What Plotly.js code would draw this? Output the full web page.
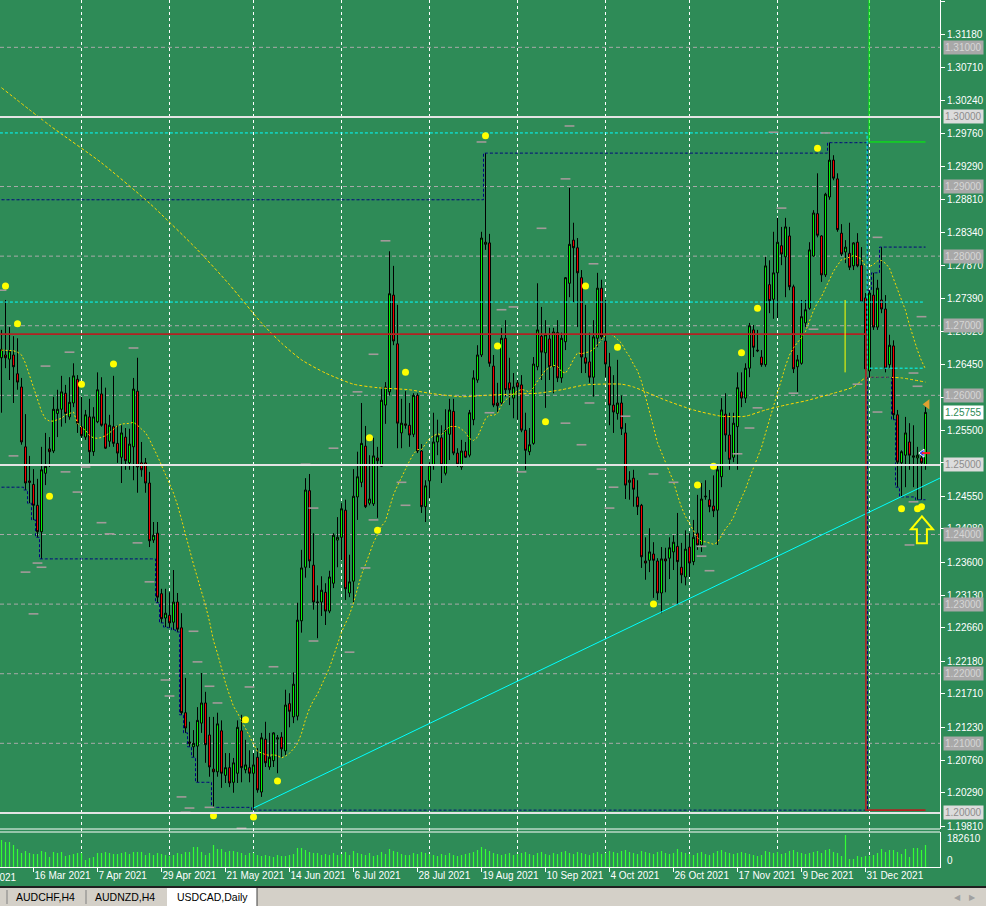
<!DOCTYPE html>
<html><head><meta charset="utf-8">
<script src="https://cdn.plot.ly/plotly-3.0.1.min.js"></script>
<style>html,body{margin:0;padding:0;background:#2E8B57;overflow:hidden}#chart{width:986px;height:906px}</style>
</head><body><div id="chart"></div>
<script>
// ---------- data (USDCAD, Daily) ----------
const open = [
1.2654,1.2658,1.2652,1.2658,1.2631,1.2612,1.2526,1.2477,1.2472,1.2442,
1.2404,1.2488,1.2523,1.2520,1.2574,1.2580,1.2603,1.2569,1.2589,1.2623,
1.2555,1.2540,1.2569,1.2519,1.2562,1.2602,1.2559,1.2534,1.2555,1.2531,
1.2511,1.2540,1.2503,1.2526,1.2606,1.2503,1.2503,1.2474,1.2392,1.2402,
1.2315,1.2280,1.2284,1.2274,1.2303,1.2266,1.2144,1.2102,1.2095,1.2096,
1.2129,1.2158,1.2112,1.2063,1.2059,1.2118,1.2054,1.2065,1.2044,1.2057,
1.2118,1.2062,1.2065,1.2057,1.2080,1.2030,1.2106,1.2066,1.2075,1.2106,
1.2109,1.2089,1.2157,1.2138,1.2139,1.2276,1.2353,1.2463,1.2356,1.2302,
1.2303,1.2317,1.2290,1.2330,1.2392,1.2396,1.2435,1.2316,1.2333,1.2454,
1.2475,1.2527,1.2445,1.2444,1.2510,1.2498,1.2586,1.2605,1.2744,1.2674,
1.2546,1.2559,1.2557,1.2544,1.2600,1.2520,1.2440,1.2477,1.2500,1.2533,
1.2539,1.2488,1.2544,1.2577,1.2517,1.2497,1.2520,1.2514,1.2565,1.2622,
1.2658,1.2817,1.2819,1.2642,1.2589,1.2589,1.2682,1.2618,1.2596,1.2618,
1.2615,1.2550,1.2519,1.2531,1.2641,1.2685,1.2661,1.2681,1.2641,1.2690,
1.2625,1.2677,1.2761,1.2823,1.2812,1.2769,1.2654,1.2648,1.2626,1.2682,
1.2754,1.2678,1.2641,1.2586,1.2574,1.2589,1.2546,1.2475,1.2481,1.2454,
1.2442,1.2362,1.2363,1.2372,1.2362,1.2316,1.2365,1.2366,1.2375,1.2383,
1.2353,1.2339,1.2382,1.2361,1.2402,1.2385,1.2454,1.2450,1.2441,1.2435,
1.2483,1.2573,1.2543,1.2511,1.2555,1.2605,1.2596,1.2639,1.2694,1.2665,
1.2655,1.2644,1.2759,1.2738,1.2776,1.2815,1.2799,1.2829,1.2756,1.2641,
1.2646,1.2704,1.2725,1.2800,1.2861,1.2829,1.2773,1.2885,1.2938,1.2911,
1.2833,1.2806,1.2804,1.2786,1.2820,1.2787,1.2740,1.2635,1.2744,1.2698,
1.2737,1.2724,1.2644,1.2671,1.2572,1.2503,1.2514,1.2533,1.2511,1.2510,
1.2510,1.2500];
const high = [
1.2694,1.2737,1.2698,1.2685,1.2682,1.2625,1.2573,1.2513,1.2494,1.2480,
1.2526,1.2546,1.2540,1.2598,1.2608,1.2628,1.2615,1.2626,1.2646,1.2629,
1.2598,1.2579,1.2595,1.2583,1.2633,1.2626,1.2611,1.2572,1.2628,1.2557,
1.2557,1.2553,1.2552,1.2625,1.2654,1.2533,1.2510,1.2490,1.2418,1.2418,
1.2322,1.2322,1.2317,1.2349,1.2316,1.2287,1.2194,1.2131,1.2119,1.2152,
1.2201,1.2174,1.2138,1.2138,1.2144,1.2133,1.2086,1.2086,1.2079,1.2133,
1.2141,1.2105,1.2090,1.2086,1.2093,1.2115,1.2131,1.2115,1.2116,1.2112,
1.2116,1.2177,1.2172,1.2202,1.2302,1.2378,1.2481,1.2487,1.2402,1.2327,
1.2340,1.2330,1.2348,1.2402,1.2425,1.2445,1.2450,1.2371,1.2494,1.2519,
1.2589,1.2556,1.2514,1.2539,1.2526,1.2612,1.2619,1.2807,1.2786,1.2730,
1.2595,1.2606,1.2589,1.2603,1.2603,1.2530,1.2478,1.2504,1.2575,1.2565,
1.2557,1.2580,1.2595,1.2595,1.2524,1.2536,1.2533,1.2579,1.2636,1.2672,
1.2835,1.2948,1.2832,1.2658,1.2618,1.2697,1.2708,1.2654,1.2632,1.2622,
1.2629,1.2575,1.2553,1.2655,1.2761,1.2727,1.2708,1.2697,1.2697,1.2708,
1.2690,1.2770,1.2898,1.2848,1.2826,1.2780,1.2730,1.2690,1.2708,1.2776,
1.2766,1.2737,1.2661,1.2629,1.2651,1.2600,1.2560,1.2491,1.2493,1.2478,
1.2444,1.2396,1.2409,1.2389,1.2366,1.2382,1.2381,1.2396,1.2399,1.2431,
1.2388,1.2406,1.2402,1.2421,1.2457,1.2474,1.2478,1.2464,1.2485,1.2500,
1.2596,1.2603,1.2575,1.2575,1.2633,1.2633,1.2646,1.2704,1.2701,1.2694,
1.2665,1.2799,1.2794,1.2835,1.2855,1.2842,1.2855,1.2842,1.2759,1.2658,
1.2737,1.2737,1.2820,1.2866,1.2919,1.2830,1.2891,1.2963,1.2945,1.2919,
1.2846,1.2823,1.2848,1.2820,1.2833,1.2813,1.2747,1.2751,1.2776,1.2766,
1.2813,1.2744,1.2687,1.2679,1.2579,1.2521,1.2569,1.2560,1.2557,1.2526,
1.2519,1.2583];
const low = [
1.2575,1.2639,1.2622,1.2589,1.2608,1.2529,1.2464,1.2445,1.2421,1.2396,
1.2365,1.2471,1.2497,1.2517,1.2540,1.2555,1.2560,1.2565,1.2583,1.2546,
1.2539,1.2536,1.2503,1.2513,1.2560,1.2555,1.2523,1.2526,1.2526,1.2503,
1.2474,1.2493,1.2493,1.2478,1.2460,1.2483,1.2460,1.2382,1.2388,1.2302,
1.2273,1.2267,1.2266,1.2263,1.2260,1.2141,1.2115,1.2095,1.2080,1.2044,
1.2115,1.2072,1.2052,1.2008,1.2052,1.2036,1.2043,1.2037,1.2029,1.2043,
1.2044,1.2057,1.2044,1.2004,1.2029,1.2023,1.2066,1.2062,1.2066,1.2057,
1.2080,1.2083,1.2123,1.2129,1.2133,1.2259,1.2338,1.2352,1.2292,1.2251,
1.2283,1.2270,1.2287,1.2323,1.2353,1.2363,1.2306,1.2310,1.2302,1.2421,
1.2468,1.2438,1.2442,1.2441,1.2424,1.2497,1.2559,1.2600,1.2672,1.2524,
1.2524,1.2552,1.2526,1.2540,1.2517,1.2431,1.2418,1.2452,1.2493,1.2514,
1.2474,1.2485,1.2507,1.2514,1.2497,1.2493,1.2510,1.2511,1.2557,1.2618,
1.2655,1.2809,1.2641,1.2583,1.2575,1.2586,1.2598,1.2586,1.2567,1.2565,
1.2547,1.2493,1.2514,1.2529,1.2636,1.2622,1.2582,1.2622,1.2603,1.2619,
1.2618,1.2665,1.2741,1.2734,1.2698,1.2632,1.2632,1.2618,1.2598,1.2669,
1.2679,1.2626,1.2557,1.2546,1.2565,1.2543,1.2451,1.2450,1.2440,1.2428,
1.2352,1.2335,1.2346,1.2309,1.2306,1.2287,1.2317,1.2336,1.2349,1.2299,
1.2330,1.2327,1.2339,1.2356,1.2378,1.2375,1.2450,1.2432,1.2425,1.2385,
1.2468,1.2519,1.2493,1.2504,1.2493,1.2583,1.2589,1.2626,1.2655,1.2662,
1.2641,1.2641,1.2718,1.2710,1.2711,1.2787,1.2741,1.2751,1.2632,1.2605,
1.2644,1.2698,1.2723,1.2799,1.2827,1.2763,1.2770,1.2881,1.2909,1.2835,
1.2800,1.2790,1.2780,1.2780,1.2784,1.2733,1.2636,1.2626,1.2694,1.2694,
1.2718,1.2633,1.2639,1.2565,1.2468,1.2454,1.2468,1.2493,1.2468,1.2450,
1.2450,1.2493];
const close = [
1.2666,1.2654,1.2664,1.2641,1.2619,1.2533,1.2474,1.2475,1.2442,1.2404,
1.2493,1.2498,1.2519,1.2580,1.2580,1.2605,1.2574,1.2590,1.2628,1.2560,
1.2542,1.2572,1.2519,1.2569,1.2608,1.2557,1.2524,1.2557,1.2531,1.2517,
1.2546,1.2506,1.2530,1.2609,1.2497,1.2493,1.2474,1.2391,1.2399,1.2310,
1.2279,1.2287,1.2273,1.2303,1.2264,1.2144,1.2122,1.2100,1.2100,1.2133,
1.2158,1.2098,1.2066,1.2059,1.2128,1.2057,1.2065,1.2043,1.2072,1.2123,
1.2065,1.2069,1.2057,1.2069,1.2033,1.2108,1.2072,1.2080,1.2115,1.2108,
1.2092,1.2155,1.2146,1.2185,1.2277,1.2352,1.2464,1.2362,1.2303,1.2303,
1.2320,1.2290,1.2339,1.2399,1.2396,1.2437,1.2322,1.2332,1.2455,1.2483,
1.2531,1.2440,1.2451,1.2513,1.2506,1.2593,1.2612,1.2746,1.2678,1.2560,
1.2560,1.2557,1.2543,1.2600,1.2520,1.2440,1.2470,1.2500,1.2533,1.2542,
1.2500,1.2550,1.2579,1.2517,1.2501,1.2520,1.2511,1.2575,1.2625,1.2658,
1.2826,1.2820,1.2646,1.2586,1.2585,1.2682,1.2608,1.2608,1.2612,1.2612,
1.2550,1.2521,1.2529,1.2645,1.2694,1.2662,1.2687,1.2641,1.2691,1.2625,
1.2682,1.2769,1.2817,1.2812,1.2776,1.2655,1.2646,1.2626,1.2684,1.2754,
1.2684,1.2645,1.2586,1.2576,1.2589,1.2552,1.2471,1.2478,1.2465,1.2440,
1.2368,1.2359,1.2375,1.2363,1.2316,1.2365,1.2362,1.2381,1.2389,1.2361,
1.2342,1.2379,1.2359,1.2396,1.2385,1.2451,1.2455,1.2440,1.2434,1.2493,
1.2579,1.2543,1.2508,1.2560,1.2611,1.2596,1.2639,1.2700,1.2669,1.2664,
1.2644,1.2786,1.2736,1.2776,1.2820,1.2803,1.2842,1.2756,1.2638,1.2651,
1.2713,1.2723,1.2809,1.2862,1.2830,1.2773,1.2889,1.2938,1.2912,1.2838,
1.2803,1.2813,1.2784,1.2819,1.2786,1.2734,1.2638,1.2747,1.2698,1.2754,
1.2724,1.2639,1.2672,1.2572,1.2504,1.2519,1.2546,1.2514,1.2513,1.2514,
1.2503,1.25755];
const volume = [
154090,142680,142680,125550,102730,79900,91310,79900,74190,74190,
91310,85610,57070,85610,79900,85610,62780,68480,74190,79900,
79900,39950,51360,57070,79900,79900,85610,79900,74190,74190,
79900,85610,74190,85610,85610,85610,68480,79900,68480,79900,
74190,68480,62780,68480,79900,74190,85610,85610,114140,114140,
85610,68480,79900,125550,102730,102730,85610,91310,91310,85610,
79900,68480,79900,79900,68480,62780,68480,62780,57070,68480,
62780,62780,68480,74190,108430,108430,97020,85610,79900,79900,
68480,74190,68480,79900,68480,74190,85610,68480,91310,79900,
74190,68480,79900,62780,68480,85610,74190,102730,91310,85610,
74190,68480,68480,79900,74190,85610,79900,74190,68480,62780,
74190,68480,79900,68480,62780,68480,74190,79900,85610,97020,
114140,102730,91310,79900,74190,68480,74190,79900,68480,74190,
79900,85610,74190,68480,79900,85610,74190,68480,79900,74190,
85610,91310,79900,74190,85610,79900,74190,68480,79900,85610,
74190,79900,91310,85610,79900,91310,97020,85610,79900,74190,
91310,85610,79900,74190,85610,91310,79900,74190,79900,102730,
85610,79900,74190,68480,79900,85610,74190,68480,79900,91310,
97020,85610,79900,74190,79900,85610,79900,74190,68480,62780,
68480,91310,85610,79900,85610,74190,79900,91310,97020,85610,
79900,74190,79900,85610,91310,79900,97020,102730,85610,79900,
62780,182610,45660,45660,62780,57070,62780,62780,68480,79900,
102730,85610,97020,97020,85610,74190,102730,57070,108430,108430,
97020,125550];
const volumeMax = 182610;
const tickBars = [8,24,40,56,72,88,104,120,136,152,168,184,200,216];
const tickLabels = ['16 Mar 2021','7 Apr 2021','29 Apr 2021','21 May 2021','14 Jun 2021','6 Jul 2021','28 Jul 2021','19 Aug 2021','10 Sep 2021','4 Oct 2021','26 Oct 2021','17 Nov 2021','9 Dec 2021','31 Dec 2021'];
const cutLabel = '22 Feb 2021';
const monthStartBars = [20,42,63,85,107,129,151,172,194,217];
const priceTicks = [1.31660,1.31180,1.30710,1.30240,1.29760,1.29290,1.28810,1.28340,1.27870,1.27390,1.26920,1.26450,1.25970,1.25500,1.25030,1.24550,1.24080,1.23600,1.23130,1.22660,1.22180,1.21710,1.21230,1.20760,1.20290,1.19810];
const roundLevels = [1.31,1.29,1.28,1.27,1.26,1.24,1.23,1.22,1.21];
const majorLevels = [1.30,1.25,1.20];
const lastPrice = 1.25755;
const ma20Head = [1.2665,1.2665,1.2665,1.2664,1.2662,1.2658,1.2646,1.2629,1.2611,1.2593,1.2577,1.2566,1.2563,1.2563,1.2565,1.2567,1.2572,1.2574,1.2576];
const ma200Bars = [0,12,25,37,49,57,65,70,75,81,88,94,102,107,115,121,129,134,140,146,155,158,166,173,180,186,191,196,201,208,213,216,220,225,231];
const ma200Vals = [1.3042,1.2988,1.2934,1.2876,1.2809,1.2759,1.2704,1.2675,1.2651,1.2632,1.2616,1.2611,1.2608,1.2603,1.2598,1.2600,1.2602,1.2603,1.2608,1.2615,1.2616,1.2612,1.2593,1.2579,1.2570,1.2570,1.2579,1.2586,1.2592,1.2603,1.2612,1.2625,1.2626,1.2625,1.2619];
const yearStartBar = 217;
const priorYearHigh = 1.2881, priorYearLow = 1.2468;
const dotBars = [1,4,12,20,28,53,61,63,69,92,94,101,121,124,136,146,154,163,174,178,185,189,204,225,229,230];
const dotVals = [1.2757,1.2703,1.2455,1.2616,1.2645,1.1996,1.2134,1.1994,1.2046,1.2539,1.2406,1.2633,1.2973,1.2671,1.2562,1.2757,1.2669,1.2300,1.2471,1.2498,1.2661,1.2725,1.2955,1.2437,1.2437,1.2440];
const dashBars = [0,17,11,33,3,16,19,21,25,27,34,9,10,6,37,8,48,49,41,42,52,54,62,68,78,87,45,47,46,52,60,93,89,83,76,78,100,101,93,91,142,120,141,135,96,148,125,128,122,141,147,145,150,130,193,206,195,219,203,198,214,219,189,187,184,156,163,153,168,152,175,175,177,230,228,229,228,227];
const dashVals = [1.2751,1.2662,1.2642,1.2668,1.2513,1.2490,1.2461,1.2497,1.2417,1.2401,1.2388,1.2359,1.2353,1.2346,1.2332,1.2286,1.2261,1.2217,1.2191,1.2168,1.2182,1.2158,1.2181,1.2210,1.2247,1.2231,1.2023,1.2007,1.2001,1.2008,1.1978,1.2659,1.2605,1.2524,1.2501,1.2438,1.2475,1.2442,1.2421,1.2352,1.2987,1.2964,1.2911,1.2840,1.2822,1.2789,1.2723,1.2727,1.2575,1.2560,1.2589,1.2529,1.2494,1.2490,1.2978,1.2977,1.2869,1.2827,1.2695,1.2603,1.2616,1.2576,1.2582,1.2553,1.2516,1.2570,1.2487,1.2468,1.2475,1.2438,1.2383,1.2369,1.2348,1.2713,1.2632,1.2613,1.2447,1.2385];
// drawn objects
const trendBars = [63, 234.6], trendVals = [1.2007, 1.2481];
const redBars = [-0.4, 216.1, 216.1, 231], redVals = [1.2688, 1.2688, 1.2004, 1.2004];
const cyanLowBars = [-0.4, 230.5], cyanLowVals = [1.2734, 1.2734];
const cyanHighBars = [-0.4, 216.4, 216.4, 230.5], cyanHighVals = [1.2977, 1.2977, 1.2639, 1.2639];
const greenBars = [216.9, 216.9, 231], greenVals = [1.3168, 1.2964, 1.2964];
const yellowVBars = [210.9, 210.9], yellowVVals = [1.2737, 1.2633];
const arrowBar = 230.1, arrowVal = 1.2406;
const markBar = 231.4, markVal = 1.2587;
const crossBar = 230.2, crossVal = 1.2517;
const tabs = ['AUDCHF,H4','AUDNZD,H4','USDCAD,Daily'];

// ---------- derived ----------
const bars = close.map((_, i) => i);
const ma20 = close.map((c, i) => {
  if (i < 19) return ma20Head[i];
  let s = 0; for (let k = i - 19; k <= i; k++) s += close[k];
  return s / 20;
});
const upper = [], lower = [];
let up = priorYearHigh, lo = priorYearLow;
for (let i = 0; i < close.length; i++) {
  if (i === yearStartBar) { up = high[i]; lo = low[i]; }
  else { up = Math.max(up, high[i]); lo = Math.min(lo, low[i]); }
  upper.push(up); lower.push(lo);
}
// volume as 1-px vertical sticks
const volX = [], volY = [];
volume.forEach((v, i) => { volX.push(i, i, null); volY.push(0, v, null); });

// ---------- geometry ----------
const W = 986, H = 906, R = 46, B = 39;
const plotH = H - B;                       // 867
const mainBottom = (plotH - 829) / plotH;  // main pane bottom
const volTop = (plotH - 832) / plotH;
const pxY = y => (plotH - y) / plotH;      // paper y from pixel row
const pxX = x => x / (W - R);              // paper x from pixel column
const BG = '#2E8B57';
const FONT = 'Liberation Sans, Arial, sans-serif';

const traces = [
  {type:'scatter', mode:'lines', x:volX, y:volY, xaxis:'x', yaxis:'y2', connectgaps:false,
   line:{color:'#33FF33', width:1.2}, hoverinfo:'skip'},
  {type:'candlestick', x:bars, open:open, high:high, low:low, close:close,
   xaxis:'x', yaxis:'y', whiskerwidth:0,
   increasing:{line:{color:'#000000', width:1}, fillcolor:'#00FF00'},
   decreasing:{line:{color:'#000000', width:1}, fillcolor:'#FF0000'},
   hoverinfo:'skip'},
  {type:'scatter', mode:'lines', x:ma200Bars, y:ma200Vals, line:{color:'#FFD700', width:1, dash:'3px,2px', shape:'spline', smoothing:0.6}, hoverinfo:'skip'},
  {type:'scatter', mode:'lines', x:bars, y:ma20, line:{color:'#FFD700', width:1, dash:'2px,2px'}, hoverinfo:'skip'},
  {type:'scatter', mode:'lines', x:bars, y:upper, line:{color:'#000080', width:1, dash:'3px,2px', shape:'hvh'}, hoverinfo:'skip'},
  {type:'scatter', mode:'lines', x:bars, y:lower, line:{color:'#000080', width:1, dash:'3px,2px', shape:'hvh'}, hoverinfo:'skip'},
  {type:'scatter', mode:'lines', x:cyanLowBars, y:cyanLowVals, line:{color:'#00FFFF', width:1, dash:'3px,2px'}, hoverinfo:'skip'},
  {type:'scatter', mode:'lines', x:cyanHighBars, y:cyanHighVals, line:{color:'#00FFFF', width:1, dash:'3px,2px'}, hoverinfo:'skip'},
  {type:'scatter', mode:'lines', x:trendBars, y:trendVals, line:{color:'#00FFFF', width:1}, hoverinfo:'skip'},
  {type:'scatter', mode:'lines', x:redBars, y:redVals, line:{color:'#B22222', width:1.6}, hoverinfo:'skip'},
  {type:'scatter', mode:'lines', x:greenBars, y:greenVals, line:{color:'#00FF00', width:1}, hoverinfo:'skip'},
  {type:'scatter', mode:'lines', x:yellowVBars, y:yellowVVals, line:{color:'#FFFF00', width:1}, hoverinfo:'skip'},
  {type:'scatter', mode:'markers', x:dashBars, y:dashVals, marker:{symbol:'line-ew', size:7, line:{color:'#A39A9A', width:1.6}}, hoverinfo:'skip'},
  {type:'scatter', mode:'markers', x:dotBars, y:dotVals, marker:{color:'#FFFF00', size:7, line:{width:0}}, hoverinfo:'skip'},
  {type:'scatter', mode:'markers', x:[markBar], y:[markVal], marker:{symbol:'triangle-left', color:'#E0A030', size:9, line:{width:0}}, hoverinfo:'skip', cliponaxis:false},
  {type:'scatter', mode:'markers', x:[crossBar], y:[crossVal], marker:{symbol:'triangle-left', color:'#1E3CFF', size:7, line:{color:'#FFFFFF', width:1}}, hoverinfo:'skip'},
  {type:'scatter', mode:'markers', x:[crossBar + 0.9], y:[crossVal], marker:{symbol:'line-ew', size:6, line:{color:'#FF2020', width:2}}, hoverinfo:'skip'}
];

const shapes = [];
monthStartBars.forEach(b => shapes.push({type:'line', xref:'x', yref:'paper', x0:b, x1:b, y0:0, y1:1, layer:'below', line:{color:'#FFFFFF', width:1, dash:'3px,3px'}}));
roundLevels.forEach(v => shapes.push({type:'line', xref:'paper', yref:'y', x0:0, x1:1, y0:v, y1:v, layer:'below', line:{color:'#A9A9A9', width:1, dash:'4px,3px'}}));
majorLevels.forEach(v => shapes.push({type:'line', xref:'paper', yref:'y', x0:0, x1:1, y0:v, y1:v, layer:'above', line:{color:'#E4E4E4', width:2}}));
// pane separators
shapes.push({type:'line', xref:'paper', yref:'paper', x0:0, x1:1, y0:mainBottom, y1:mainBottom, line:{color:'#FFFFFF', width:1}});
shapes.push({type:'line', xref:'paper', yref:'paper', x0:0, x1:1, y0:volTop, y1:volTop, line:{color:'#FFFFFF', width:1}});
// yellow hollow arrow (pixel-sized around its anchor)
shapes.push({type:'path', xref:'x', yref:'y', xsizemode:'pixel', ysizemode:'pixel', xanchor:arrowBar, yanchor:arrowVal,
  path:'M0,14 L-11,1 L-5,1 L-5,-13 L5,-13 L5,1 L11,1 Z', line:{color:'#FFFF00', width:2}, fillcolor:'rgba(0,0,0,0)'});
// tab bar
shapes.push({type:'rect', xref:'paper', yref:'paper', x0:pxX(0), x1:pxX(W), y0:pxY(H), y1:pxY(887), fillcolor:'#D4D0C8', line:{width:0}, layer:'above'});
shapes.push({type:'line', xref:'paper', yref:'paper', x0:pxX(0), x1:pxX(W), y0:pxY(887), y1:pxY(887), line:{color:'#202020', width:2}});
shapes.push({type:'rect', xref:'paper', yref:'paper', x0:pxX(167), x1:pxX(257), y0:pxY(H), y1:pxY(888), fillcolor:'#FFFFFF', line:{width:0}});
[7, 86].forEach(x => shapes.push({type:'line', xref:'paper', yref:'paper', x0:pxX(x), x1:pxX(x), y0:pxY(904), y1:pxY(890), line:{color:'#808080', width:1}}));
shapes.push({type:'line', xref:'paper', yref:'paper', x0:pxX(257), x1:pxX(257), y0:pxY(H), y1:pxY(888), line:{color:'#404040', width:1}});

const annotations = [];
roundLevels.forEach(v => annotations.push({xref:'paper', x:1, xanchor:'left', xshift:3, yref:'y', y:v, yanchor:'middle', text:v.toFixed(5), showarrow:false, bgcolor:'#A8A8A8', borderpad:1, font:{family:FONT, size:10, color:'#D6D6D6'}}));
majorLevels.forEach(v => annotations.push({xref:'paper', x:1, xanchor:'left', xshift:3, yref:'y', y:v, yanchor:'middle', text:v.toFixed(5), showarrow:false, bgcolor:'#DCDCDC', borderpad:1, font:{family:FONT, size:10, color:'#8C8C8C'}}));
annotations.push({xref:'paper', x:1, xanchor:'left', xshift:3, yref:'y', y:lastPrice, yanchor:'middle', text:lastPrice.toFixed(5), showarrow:false, bgcolor:'#FFFFFF', borderpad:1, font:{family:FONT, size:10, color:'#2E8B57'}});
annotations.push({xref:'paper', x:1, xanchor:'left', xshift:5, yref:'y2', y:volumeMax, yanchor:'middle', yshift:-3, text:String(volumeMax), showarrow:false, font:{family:FONT, size:10, color:'#FFFFFF'}});
annotations.push({xref:'paper', x:1, xanchor:'left', xshift:5, yref:'y2', y:0, yanchor:'middle', yshift:7, text:'0', showarrow:false, font:{family:FONT, size:10, color:'#FFFFFF'}});
annotations.push({xref:'paper', x:pxX(19), xanchor:'right', yref:'paper', y:pxY(877), yanchor:'middle', text:cutLabel, showarrow:false, font:{family:FONT, size:10, color:'#FFFFFF'}});
const tabCenters = [45, 125, 212];
tabs.forEach((t, i) => annotations.push({xref:'paper', x:pxX(tabCenters[i]), xanchor:'center', yref:'paper', y:pxY(897), yanchor:'middle', text:t, showarrow:false, font:{family:FONT, size:10.5, color:'#000000'}}));
annotations.push({xref:'paper', x:pxX(957), xanchor:'center', yref:'paper', y:pxY(897), yanchor:'middle', text:'◀', showarrow:false, font:{size:8, color:'#A0A0A0'}});
annotations.push({xref:'paper', x:pxX(972), xanchor:'center', yref:'paper', y:pxY(897), yanchor:'middle', text:'▶', showarrow:false, font:{size:8, color:'#A0A0A0'}});

const layout = {
  width: W, height: H,
  margin: {l:0, r:R, t:0, b:B, pad:0},
  paper_bgcolor: BG, plot_bgcolor: BG,
  showlegend: false, hovermode: false, dragmode: false,
  font: {family:FONT, size:10, color:'#FFFFFF'},
  xaxis: {range:[-0.375, 234.625], anchor:'y2', tickmode:'array', tickvals:tickBars, ticktext:tickLabels,
          ticks:'outside', ticklen:4, tickcolor:'#FFFFFF', showline:true, linecolor:'#FFFFFF', linewidth:1,
          showgrid:false, zeroline:false, ticklabelposition:'outside right', tickangle:0, ticklabelstandoff:-1,
          tickfont:{family:FONT, size:10, color:'#FFFFFF'}, rangeslider:{visible:false}, fixedrange:true},
  yaxis: {domain:[mainBottom, 1], range:[1.19769, 1.3168], side:'right', tickmode:'array',
          tickvals:priceTicks, ticktext:priceTicks.map(v => v.toFixed(5)),
          ticks:'outside', ticklen:4, tickcolor:'#FFFFFF', showline:true, linecolor:'#FFFFFF', linewidth:1,
          showgrid:false, zeroline:false, tickfont:{size:10, color:'#FFFFFF'}, fixedrange:true},
  yaxis2: {domain:[0, volTop], range:[0, 199730], side:'right', showline:true, linecolor:'#FFFFFF',
           linewidth:1, showticklabels:false, ticks:'', showgrid:false, zeroline:false, fixedrange:true},
  shapes: shapes,
  annotations: annotations
};

Plotly.newPlot('chart', traces, layout, {displayModeBar:false, staticPlot:true});
</script>
</body></html>
